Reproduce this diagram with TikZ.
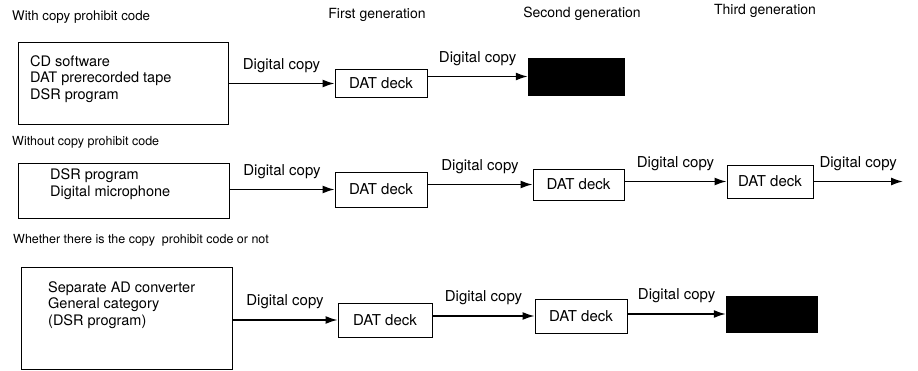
\documentclass[tikz,border=0pt]{standalone}
\usepackage{fontspec}
\setmainfont{TeX Gyre Heros}
\usetikzlibrary{arrows.meta}
\begin{document}
\begin{tikzpicture}[x=1pt,y=-1pt,
    srcbox/.style={draw, line width=0.9pt, inner sep=0pt},
    srctext/.style={anchor=west, align=left, inner sep=0pt, font=\fontsize{14.5}{16.5}\selectfont},
    deck/.style={draw, line width=0.9pt, inner sep=0pt, font=\fontsize{15}{18}\selectfont},
    blot/.style={fill=black, draw=black, inner sep=0pt},
    head/.style={anchor=west, inner sep=0pt, font=\fontsize{12.5}{14}\selectfont},
    gen/.style={inner sep=0pt, font=\fontsize{14}{16}\selectfont},
    copyarrow/.style={line width=1.6pt, -{Latex[length=12pt,width=8pt]}},
    lbl/.style={above=10pt, inner sep=0pt, font=\fontsize{15}{18}\selectfont}]
  \useasboundingbox (0,0) rectangle (918,371);

  \node[head, font=\fontsize{13.3}{15}\selectfont] (h1) at (12,17) {With copy prohibit code};
  \node[gen] (g1) at (377,15) {First generation};
  \node[gen] (g2) at (582,14) {Second generation};
  \node[gen] (g3) at (765,11) {Third generation};

  \node[srcbox, minimum width=210, minimum height=82] (src1) at (123,83) {};
  \node[srctext] (src1txt) at (30,79) {CD software\\DAT prerecorded tape\\DSR program};
  \node[deck, minimum width=92, minimum height=28] (dat1) at (381,83.5) {DAT deck};
  \node[blot, minimum width=96, minimum height=37] (blk1) at (576,76.5) {};
  \draw[copyarrow] (src1.east |- dat1.west) -- (dat1.west) node[lbl, midway] (c11) {Digital copy};
  \draw[copyarrow] (dat1.east |- blk1.west) -- (blk1.west) node[lbl, midway] (c12) {Digital copy};

  \node[head] (h2) at (12,142) {Without copy prohibit code};
  \node[srcbox, minimum width=211, minimum height=55] (src2) at (123.5,190.5) {};
  \node[srctext] (src2txt) at (50,184) {DSR program\\Digital microphone};
  \node[deck, minimum width=92, minimum height=35] (dat2) at (381,189.5) {DAT deck};
  \node[deck, minimum width=91, minimum height=31] (dat3) at (578.5,184.5) {DAT deck};
  \node[deck, minimum width=86, minimum height=33] (dat4) at (770,181.5) {DAT deck};
  \coordinate (e2) at (903,181.5);
  \draw[copyarrow] (src2.east |- dat2.west) -- (dat2.west) node[lbl, midway] (c21) {Digital copy};
  \draw[copyarrow] (dat2.east |- dat3.west) -- (dat3.west) node[lbl, midway] (c22) {Digital copy};
  \draw[copyarrow] (dat3.east |- dat4.west) -- (dat4.west) node[lbl, midway] (c23) {Digital copy};
  \draw[copyarrow] (dat4.east) -- (e2) node[lbl, midway] (c24) {Digital copy};

  \node[head] (h3) at (13,240) {Whether there is the copy\ \ prohibit code or not};
  \node[srcbox, minimum width=211, minimum height=102] (src3) at (126.5,318) {};
  \node[srctext] (src3txt) at (48,305) {Separate AD converter\\General category\\(DSR program)};
  \node[deck, minimum width=94, minimum height=34] (dat5) at (385,320) {DAT deck};
  \node[deck, minimum width=92, minimum height=34] (dat6) at (581,316) {DAT deck};
  \node[blot, minimum width=91, minimum height=36] (blk3) at (771.5,314) {};
  \draw[copyarrow] (src3.east |- dat5.west) -- (dat5.west) node[lbl, midway] (c31) {Digital copy};
  \draw[copyarrow] (dat5.east |- dat6.west) -- (dat6.west) node[lbl, midway] (c32) {Digital copy};
  \draw[copyarrow] (dat6.east |- blk3.west) -- (blk3.west) node[lbl, midway] (c33) {Digital copy};
\end{tikzpicture}
\end{document}
